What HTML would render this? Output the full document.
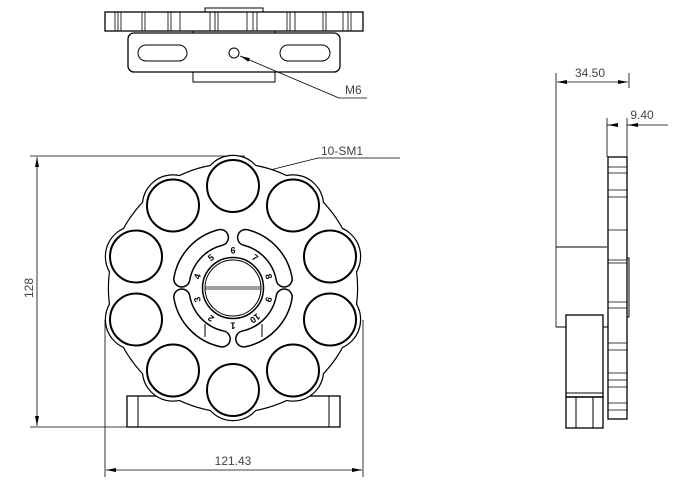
<!DOCTYPE html>
<html><head><meta charset="utf-8"><style>
html,body{margin:0;padding:0;background:#fff;}
svg{display:block;}
text{font-family:"Liberation Sans",sans-serif;}
</style></head><body>
<svg width="684" height="489" viewBox="0 0 684 489" xmlns="http://www.w3.org/2000/svg">
<defs>
<marker id="ar" viewBox="0 0 10 4" refX="10" refY="2" markerWidth="10" markerHeight="4" orient="auto-start-reverse" markerUnits="userSpaceOnUse"><path d="M0,0 L10,2 L0,4z" fill="#000"/></marker>
</defs>
<g fill="none" stroke="#000" stroke-width="1">
<rect x="205" y="8" width="58" height="4"/>
<rect x="105" y="12" width="258" height="19" stroke-width="1.3"/>
<g stroke-width="0.8">
<path d="M115,12v19M118,12v19M121,12v19M142,12v19M145,12v19M168,12v19M171,12v19M180,12v19M210,12v19M215,12v19M218,12v19M247,12v19M253,12v19M257,12v19M287,12v19M290,12v19M295,12v19M323,12v19M326,12v19M343,12v19M348,12v19M351,12v19"/>
</g>
<rect x="128" y="33" width="212" height="39" rx="6" stroke-width="1.3"/>
<path d="M193,31v2M275,31v2"/>
<rect x="138" y="45" width="49" height="16" rx="8"/>
<rect x="280" y="45" width="50" height="16" rx="8"/>
<circle cx="234" cy="53" r="5"/>
<path d="M193,72v10h82v-10"/>
<path d="M339,98 L240,56" marker-end="url(#ar)" stroke-width="0.8"/>
<path d="M339,98 H367" stroke-width="0.8"/>

<path d="M30,156 H245 M30,427 H130" stroke-width="0.8"/>
<path d="M37,157 V426" marker-start="url(#ar)" marker-end="url(#ar)" stroke-width="0.8"/>
<path d="M105,320 V477 M363,320 V477" stroke-width="0.8"/>
<path d="M106,470 H362" marker-start="url(#ar)" marker-end="url(#ar)" stroke-width="0.8"/>
<path d="M262,172 L318,158 H400" stroke-width="0.8"/>

<rect x="127" y="396" width="213" height="31" stroke-width="1.3"/>
<path d="M138,396v31M329,396v31"/>
</g>

<g stroke="#000" stroke-width="2.4" fill="none">
<circle cx="233" cy="288" r="124"/>
<circle cx="233" cy="186" r="30"/><circle cx="293" cy="205.5" r="30"/><circle cx="330" cy="256.5" r="30"/><circle cx="330" cy="319.5" r="30"/><circle cx="293" cy="370.5" r="30"/><circle cx="233" cy="390" r="30"/><circle cx="173" cy="370.5" r="30"/><circle cx="136" cy="319.5" r="30"/><circle cx="136" cy="256.5" r="30"/><circle cx="173" cy="205.5" r="30"/>
</g>
<g fill="#fff" stroke="none">
<circle cx="233" cy="288" r="124"/>
<circle cx="233" cy="186" r="30"/><circle cx="293" cy="205.5" r="30"/><circle cx="330" cy="256.5" r="30"/><circle cx="330" cy="319.5" r="30"/><circle cx="293" cy="370.5" r="30"/><circle cx="233" cy="390" r="30"/><circle cx="173" cy="370.5" r="30"/><circle cx="136" cy="319.5" r="30"/><circle cx="136" cy="256.5" r="30"/><circle cx="173" cy="205.5" r="30"/>
</g>
<g stroke="#000" stroke-width="2" fill="none">
<circle cx="233" cy="186" r="26"/><circle cx="293" cy="205.5" r="26"/><circle cx="330" cy="256.5" r="26"/><circle cx="330" cy="319.5" r="26"/><circle cx="293" cy="370.5" r="26"/><circle cx="233" cy="390" r="26"/><circle cx="173" cy="370.5" r="26"/><circle cx="136" cy="319.5" r="26"/><circle cx="136" cy="256.5" r="26"/><circle cx="173" cy="205.5" r="26"/>
</g>
<!-- slots r=52 -->
<g fill="none" stroke-linecap="round">
<g stroke="#000" stroke-width="17.5">
<path d="M220.4,237.5 A52,52 0 0 0 181.8,279"/>
<path d="M245.6,237.5 A52,52 0 0 1 284.2,279"/>
<path d="M181.8,297 A52,52 0 0 0 222.2,338.9"/>
<path d="M243.8,338.9 A52,52 0 0 0 284.2,297"/>
</g>
<g stroke="#fff" stroke-width="14.5">
<path d="M220.4,237.5 A52,52 0 0 0 181.8,279"/>
<path d="M245.6,237.5 A52,52 0 0 1 284.2,279"/>
<path d="M181.8,297 A52,52 0 0 0 222.2,338.9"/>
<path d="M243.8,338.9 A52,52 0 0 0 284.2,297"/>
</g>
</g>
<path d="M205,324v13M262,324v13" stroke="#000" stroke-width="1"/>
<circle cx="233" cy="288" r="30.5" fill="#fff" stroke="#000" stroke-width="1.5"/>
<circle cx="233" cy="288" r="28" fill="none" stroke="#000" stroke-width="1"/>
<path d="M205,287H261M205,289H261" stroke="#000" stroke-width="0.8"/>
<!-- numbers r=38 -->
<g font-size="9" font-weight="bold" text-anchor="middle" fill="#000">
<text transform="translate(233,250) rotate(0)" y="3.5">6</text>
<text transform="translate(255.3,257.3) rotate(36)" y="3.5">7</text>
<text transform="translate(269.1,276.3) rotate(72)" y="3.5">8</text>
<text transform="translate(269.1,299.7) rotate(108)" y="3.5">9</text>
<text transform="translate(255.3,318.7) rotate(144)" y="3.5">10</text>
<text transform="translate(233,326) rotate(180)" y="3.5">1</text>
<text transform="translate(210.7,318.7) rotate(-144)" y="3.5">2</text>
<text transform="translate(196.9,299.7) rotate(-108)" y="3.5">3</text>
<text transform="translate(196.9,276.3) rotate(-72)" y="3.5">4</text>
<text transform="translate(210.7,257.3) rotate(-36)" y="3.5">5</text>
</g>

<g fill="none" stroke="#000" stroke-width="1">
<path d="M556,73 V327 M629,73 V88" stroke-width="0.8"/>
<path d="M557,82 H628" marker-start="url(#ar)" marker-end="url(#ar)" stroke-width="0.8"/>
<path d="M607,118 V157 M627,118 V157" stroke-width="0.8"/>
<path d="M607,125 H617 M627,125 H668" stroke-width="0.8"/>
<path d="M617,125 H608" marker-end="url(#ar)" stroke-width="0.8"/>
<path d="M633,125 H628" marker-end="url(#ar)" stroke-width="0.8"/>
<rect x="608" y="157" width="19" height="262" stroke-width="1.3"/>
<g stroke-width="0.8">
<path d="M608,167h19M608,173h19M608,190h19M608,197h19M608,230h19M608,260h19M608,263h19M608,302h19M608,308h19M608,343h19M608,350h19M608,373h19M608,380h19M608,387h19M608,403h19M608,410h19"/>
</g>
<path d="M627,258h2v59h-2"/>
<path d="M556,247 H607 M556,327 H566"/>
<rect x="566" y="315" width="37" height="82" stroke-width="1.3"/>
<path d="M566,393 H603"/>
<rect x="566" y="397" width="37" height="31" stroke-width="1.3"/>
<path d="M576,397v31M593,397v31"/>
<path d="M603,327 H608"/>
</g>

<g fill="#444" font-size="12">
<text x="345" y="94">M6</text>
<text x="321" y="155">10-SM1</text>
<text x="233" y="465" text-anchor="middle">121.43</text>
<text transform="translate(33,288) rotate(-90)" text-anchor="middle">128</text>
<text x="590" y="77" text-anchor="middle">34.50</text>
<text x="642" y="119" text-anchor="middle">9.40</text>
</g>
</svg>
</body></html>
